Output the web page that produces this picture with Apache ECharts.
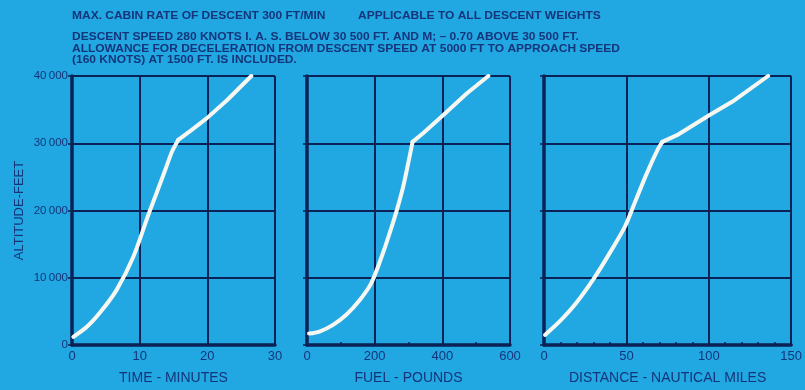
<!DOCTYPE html>
<html>
<head>
<meta charset="utf-8">
<script src="https://cdn.jsdelivr.net/npm/echarts@6/dist/echarts.min.js"></script>
<style>
  html, body { margin: 0; padding: 0; background: #21a7e2; }
  #chart { width: 805px; height: 390px; }
</style>
</head>
<body>
<div id="chart"></div>
<script>
// Descent profile: altitude against time, fuel and distance
const altitudeTicks = [0, 10000, 20000, 30000, 40000];

const timeMinutes  = [0.2, 2.2, 4.2, 6.6, 9.1, 11.3, 12.5, 13.8, 14.8, 15.7, 17.7, 19.9, 22.9, 26.5];
const timeAltitude = [1200, 2700, 4900, 8200, 13200, 19400, 22600, 26100, 28800, 30500, 32000, 33700, 36400, 40000];

const fuelPounds   = [6, 37, 77, 116, 156, 190, 224, 244, 264, 284, 299, 312, 343, 403, 472, 536];
const fuelAltitude = [1700, 2000, 3000, 4500, 6700, 9200, 13600, 16600, 19800, 23500, 27000, 30200, 31500, 34200, 37400, 40000];

const distanceNm       = [0.6, 9.5, 19.4, 30.3, 39.2, 49.1, 55, 62, 68.9, 71.8, 80.7, 100.5, 114.4, 136];
const distanceAltitude = [1500, 3500, 6200, 9900, 13400, 17600, 21100, 25300, 29000, 30200, 31200, 34200, 36200, 40000];

// index of the break point near 30 500 ft in each profile
const breakTime = 9, breakFuel = 11, breakDistance = 9;

const noteLines = [
  'MAX. CABIN RATE OF DESCENT 300 FT/MIN',
  'DESCENT SPEED 280 KNOTS I. A. S. BELOW 30 500 FT. AND M; \u2013 0.70 ABOVE 30 500 FT.',
  'ALLOWANCE FOR DECELERATION FROM DESCENT SPEED AT 5000 FT TO APPROACH SPEED',
  '(160 KNOTS) AT 1500 FT. IS INCLUDED.'
];
const noteRight = 'APPLICABLE TO ALL DESCENT WEIGHTS';
const xNames = ['TIME - MINUTES', 'FUEL - POUNDS', 'DISTANCE - NAUTICAL MILES'];
const yName = 'ALTITUDE-FEET';

const navy = '#0b2256';
const textNavy = '#15357a';
const curve = '#f7f7f2';
const sans = '"Liberation Sans", Arial, sans-serif';
const noteFont = 'bold 11.5px ' + sans;

function pairs(xs, ys, from, to) {
  const out = [];
  for (let i = from; i <= to; i++) out.push([xs[i], ys[i]]);
  return out;
}

const grids = [
  { left: 72, top: 76, width: 203, height: 269 },
  { left: 307, top: 76, width: 203, height: 269 },
  { left: 544, top: 76, width: 253, height: 269 }
];

const xCfg = [
  { max: 30, interval: 10, minor: 0 },
  { max: 600, interval: 200, minor: 2 },
  { max: 150, interval: 50, minor: 5 }
];

const xAxes = xCfg.map((c, i) => ({
  gridIndex: i, type: 'value', min: 0, max: c.max, interval: c.interval,
  name: xNames[i], nameLocation: 'middle', nameGap: 26,
  nameTextStyle: { color: textNavy, fontSize: 14, fontFamily: sans },
  axisLine: { show: true, lineStyle: { color: navy, width: 3.5 } },
  axisTick: { show: c.minor > 0, inside: true, length: 3, lineStyle: { color: navy, width: 1.5 } },
  minorTick: { show: c.minor > 0, splitNumber: c.minor, length: 3, lineStyle: { color: navy, width: 1.5 } },
  axisLabel: { color: textNavy, fontSize: 13, margin: 5, fontFamily: sans },
  splitLine: { show: true, lineStyle: { color: navy, width: 2 } }
}));

const yAxes = [0, 1, 2].map(i => ({
  gridIndex: i, type: 'value', min: 0, max: 40000, interval: 10000,
  name: i === 0 ? yName : '', nameLocation: 'middle', nameGap: 46, nameRotate: 90,
  nameTextStyle: { color: textNavy, fontSize: 13, fontFamily: sans },
  axisLine: { show: true, lineStyle: { color: navy, width: 3.5 } },
  axisTick: { show: true, length: 4, lineStyle: { color: navy, width: 1.5 } },
  axisLabel: {
    show: i === 0, color: textNavy, fontSize: 11.5, margin: 4, fontFamily: sans,
    formatter: v => altitudeTicks.includes(v) ? (v === 0 ? '0' : String(v / 1000) + '\u2009000') : ''
  },
  splitLine: { show: true, lineStyle: { color: navy, width: 2 } }
}));

function profile(idx, xs, ys, brk) {
  const base = {
    type: 'line', xAxisIndex: idx, yAxisIndex: idx, symbol: 'none',
    lineStyle: { color: curve, width: 4, cap: 'round', join: 'round' }, z: 5
  };
  return [
    Object.assign({}, base, { data: pairs(xs, ys, 0, brk), smooth: 0.3 }),
    Object.assign({}, base, { data: pairs(xs, ys, brk, xs.length - 1), smooth: false })
  ];
}

// notes above the panels, condensed so the longest line spans 72..620 px
const measureCtx = document.createElement('canvas').getContext('2d');
measureCtx.font = noteFont;
const condense = 548 / measureCtx.measureText(noteLines[2]).width;

const noteY = [16, 36.5, 49, 60];
const graphics = noteLines.map((t, i) => ({
  type: 'text', x: 72, y: noteY[i], scaleX: condense,
  style: { text: t, fill: textNavy, font: noteFont, verticalAlign: 'middle' }
}));
graphics.push({
  type: 'text', x: 358, y: noteY[0], scaleX: condense,
  style: { text: noteRight, fill: textNavy, font: noteFont, verticalAlign: 'middle' }
});

const chart = echarts.init(document.getElementById('chart'), null, { renderer: 'canvas' });
chart.setOption({
  backgroundColor: '#21a7e2',
  animation: false,
  grid: grids,
  xAxis: xAxes,
  yAxis: yAxes,
  graphic: graphics,
  series: [].concat(
    profile(0, timeMinutes, timeAltitude, breakTime),
    profile(1, fuelPounds, fuelAltitude, breakFuel),
    profile(2, distanceNm, distanceAltitude, breakDistance)
  )
});
</script>
</body>
</html>
